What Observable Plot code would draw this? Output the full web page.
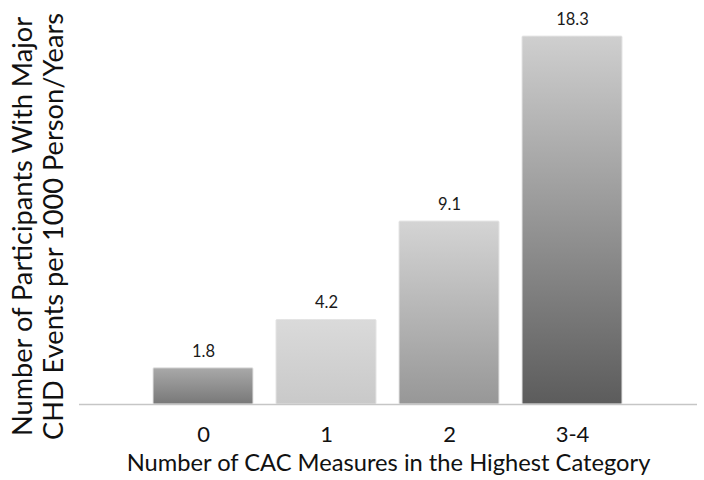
<!DOCTYPE html>
<html>
<head>
<meta charset="utf-8">
<script src="https://cdn.jsdelivr.net/npm/d3@7"></script>
<script src="https://cdn.jsdelivr.net/npm/@observablehq/plot@0.6"></script>
<style>
  html, body { margin: 0; padding: 0; background: #fff; }
  #chart { width: 704px; height: 480px; }
</style>
</head>
<body>
<div id="chart"></div>
<script>
const categories = ["0", "1", "2", "3-4"];
const values = [1.8, 4.2, 9.1, 18.3];
const valueLabels = ["1.8", "4.2", "9.1", "18.3"];
const xLabel = "Number of CAC Measures in the Highest Category";
const yLabel = "Number of Participants With Major\nCHD Events per 1000 Person/Years";

// gradient styling per bar (top colour, bottom colour)
const gradTop = ["#a9a9a9", "#dadada", "#d4d4d4", "#cfcfcf"];
const gradBottom = ["#787878", "#c9c9c9", "#979797", "#5c5c5c"];

const data = categories.map((c, i) => ({cat: c, value: values[i], label: valueLabels[i], fill: `url(#grad${i})`}));

const font = "Lato, 'Open Sans', sans-serif";

const chart = Plot.plot({
  width: 704,
  height: 480,
  marginLeft: 152,
  marginRight: 80,
  marginTop: 20,
  marginBottom: 76,
  style: {fontFamily: font, background: "#fff"},
  x: {domain: categories, paddingInner: 0.185, paddingOuter: 0, label: null},
  y: {domain: [0, 19.1], axis: null},
  color: {type: "identity"},
  marks: [
    Plot.barY(data, {x: "cat", y: "value", fill: "fill", stroke: "#e4e4e4", strokeWidth: 1, rx: 1}),
    Plot.ruleY([0], {stroke: "#c6c6c6", strokeWidth: 1.5, insetLeft: -73, insetRight: -73}),
    Plot.text(data, {x: "cat", y: "value", text: "label", dy: -17, fontSize: 16.5, fill: "#1a1a1a"}),
    Plot.axisX({tickSize: 0, tickPadding: 22, fontSize: 22, label: null, color: "#111"}),
    Plot.text([xLabel], {frameAnchor: "bottom", dy: 59, lineAnchor: "middle", fontSize: 23.7, fill: "#111"}),
    Plot.text([yLabel], {frameAnchor: "left", textAnchor: "middle", rotate: -90, dx: -115, dy: 14, lineAnchor: "middle", lineHeight: 1.15, fontSize: 27.2, fill: "#111"})
  ]
});

// gradient definitions
const svgNS = "http://www.w3.org/2000/svg";
const defs = document.createElementNS(svgNS, "defs");
gradTop.forEach((top, i) => {
  const g = document.createElementNS(svgNS, "linearGradient");
  g.setAttribute("id", `grad${i}`);
  g.setAttribute("x1", "0"); g.setAttribute("y1", "0");
  g.setAttribute("x2", "0"); g.setAttribute("y2", "1");
  const s1 = document.createElementNS(svgNS, "stop");
  s1.setAttribute("offset", "0"); s1.setAttribute("stop-color", top);
  const s2 = document.createElementNS(svgNS, "stop");
  s2.setAttribute("offset", "1"); s2.setAttribute("stop-color", gradBottom[i]);
  g.appendChild(s1); g.appendChild(s2);
  defs.appendChild(g);
});
chart.insertBefore(defs, chart.firstChild);

document.getElementById("chart").appendChild(chart);
</script>
</body>
</html>
